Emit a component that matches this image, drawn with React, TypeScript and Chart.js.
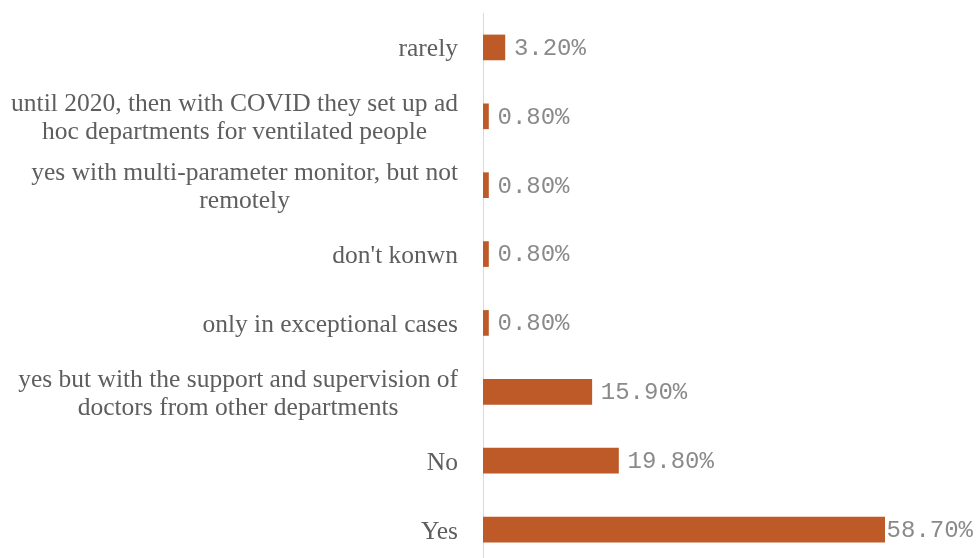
import React, { useEffect, useRef } from "react";
import { Chart, registerables } from "chart.js";

Chart.register(...registerables);

const categories: (string | string[])[] = [
  "rarely",
  ["until 2020, then with COVID they set up ad", "hoc departments for ventilated people"],
  ["yes with multi-parameter monitor, but not", "remotely"],
  "don't konwn",
  "only in exceptional cases",
  ["yes but with the support and supervision of", "doctors from other departments"],
  "No",
  "Yes",
];
const values: number[] = [3.2, 0.8, 0.8, 0.8, 0.8, 15.9, 19.8, 58.7];
const valueLabels: string[] = values.map((v) => v.toFixed(2) + "%");

const BAR_COLOR = "#BE5A28";
const LABEL_FONT = '25.5px "Liberation Serif", "Times New Roman", serif';
const VALUE_FONT = '24px "Liberation Mono", "Courier New", monospace';

const categoryLabelPlugin = {
  id: "categoryLabels",
  afterDraw(chart: any) {
    const ctx = chart.ctx;
    const yScale = chart.scales.y;
    const rightEdge = yScale.right - 25;
    const lineGap = 28;
    ctx.save();
    ctx.font = LABEL_FONT;
    ctx.fillStyle = "#5e5e5e";
    ctx.textAlign = "center";
    ctx.textBaseline = "alphabetic";
    categories.forEach((lab, i) => {
      const lines = Array.isArray(lab) ? lab : [lab];
      const maxW = Math.max(...lines.map((l) => ctx.measureText(l).width));
      const cx = rightEdge - maxW / 2;
      const cy = yScale.getPixelForTick(i);
      lines.forEach((line, j) => {
        const base = cy - ((lines.length - 1) * lineGap) / 2 + j * lineGap + 9;
        ctx.fillText(line, cx, base);
      });
    });
    ctx.restore();
  },
};

const valueLabelPlugin = {
  id: "valueLabels",
  afterDatasetsDraw(chart: any) {
    const ctx = chart.ctx;
    const meta = chart.getDatasetMeta(0);
    ctx.save();
    ctx.font = VALUE_FONT;
    ctx.fillStyle = "#8a8a8a";
    ctx.textBaseline = "middle";
    ctx.textAlign = "left";
    meta.data.forEach((bar: any, i: number) => {
      const text = valueLabels[i];
      const w = ctx.measureText(text).width;
      let x = bar.x + 9;
      const maxRight = chart.width - 3;
      if (x + w > maxRight) x = Math.max(bar.x, maxRight - w);
      ctx.fillText(text, x, bar.y + 1);
    });
    ctx.restore();
  },
};

export default function App() {
  const ref = useRef<HTMLCanvasElement | null>(null);
  useEffect(() => {
    if (!ref.current) return;
    const chart = new Chart(ref.current, {
      type: "bar",
      data: {
        labels: categories,
        datasets: [
          {
            data: values,
            backgroundColor: BAR_COLOR,
            borderWidth: 0,
            barThickness: 25,
          },
        ],
      },
      options: {
        indexAxis: "y",
        animation: false,
        responsive: true,
        maintainAspectRatio: false,
        layout: { padding: { top: 13, right: 14, left: 0, bottom: 0 } },
        plugins: {
          legend: { display: false },
          tooltip: { enabled: false },
        },
        scales: {
          x: {
            display: false,
            min: 0,
            max: 70,
          },
          y: {
            grid: { display: false, drawTicks: false },
            border: { display: true, color: "#d9d9d9", width: 1 },
            ticks: { display: false, autoSkip: false },
            afterFit(scale: any) {
              scale.width = 483;
              scale.paddingTop = 0;
              scale.paddingBottom = 0;
            },
          },
        },
      },
      plugins: [valueLabelPlugin, categoryLabelPlugin],
    });
    return () => chart.destroy();
  }, []);
  return (
    <div style={{ position: "fixed", left: 0, top: 0, width: 976, height: 564, background: "#fff" }}>
      <canvas ref={ref} />
    </div>
  );
}
